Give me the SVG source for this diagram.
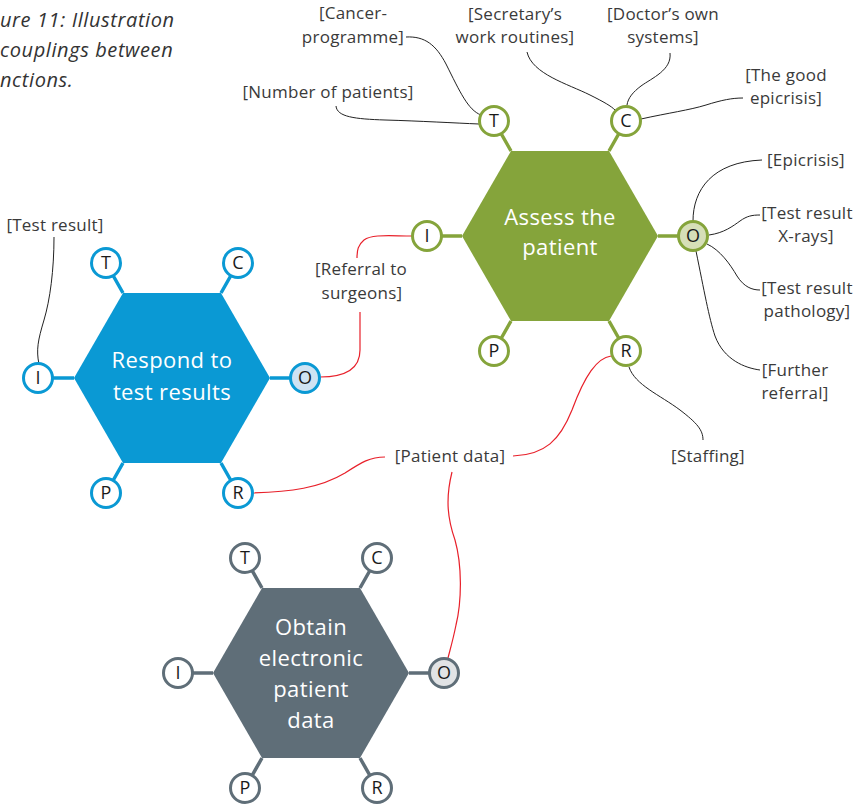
<svg xmlns="http://www.w3.org/2000/svg" width="859" height="806" viewBox="0 0 859 806">
  <defs>
    <style>
      .cap { font-family: "Open Sans", "Liberation Sans", sans-serif; font-style: italic; font-size: 20px; letter-spacing: 0.6px; fill: #333; }
      .lbl { font-family: "Open Sans", "Liberation Sans", sans-serif; font-size: 17px; letter-spacing: 0.25px; fill: #3a3a3a; text-anchor: middle; }
      .hx { font-family: "Open Sans", "Liberation Sans", sans-serif; font-size: 22px; letter-spacing: 0.4px; fill: #fff; text-anchor: middle; }
      .let { font-family: "Open Sans", "Liberation Sans", sans-serif; font-size: 18px; font-weight: 500; fill: #1a1a1a; text-anchor: middle; }
      .blk { fill: none; stroke: #222; stroke-width: 1; }
      .red { fill: none; stroke: #e8202a; stroke-width: 1.2; }
      .green .hex { fill: #85a43b; }
      .green .spoke { stroke: #85a43b; stroke-width: 3.5; }
      .green circle { fill: #fff; stroke: #85a43b; stroke-width: 3; }
      .green circle.out { fill: #d6dfb8; }
      .blue .hex { fill: #0a99d4; }
      .blue .spoke { stroke: #0a99d4; stroke-width: 3.5; }
      .blue circle { fill: #fff; stroke: #0a99d4; stroke-width: 3; }
      .blue circle.out { fill: #cfe3f3; }
      .grey .hex { fill: #5f6e78; }
      .grey .spoke { stroke: #5f6e78; stroke-width: 3.5; }
      .grey circle { fill: #fff; stroke: #5f6e78; stroke-width: 3; }
      .grey circle.out { fill: #e1e3e5; }
    </style>
  </defs>
  <rect width="859" height="806" fill="#fff"/>

  <!-- caption -->
  <g id="caption">
    <text class="cap" x="0" y="27">ure 11: Illustration</text>
    <text class="cap" x="0" y="57">couplings between</text>
    <text class="cap" x="0" y="87">nctions.</text>
  </g>

  <!-- connectors -->
  <g id="connectors">
    <path class="blk" d="M336,106 C337,117 355,119 385,120 C420,121 455,123 479,124"/>
    <path class="blk" d="M406,37 C425,36 436,45 446,64 C460,92 468,110 481,115"/>
    <path class="blk" d="M527,52 C532,74 568,84 590,95 C604,102 611,106 615,110"/>
    <path class="blk" d="M670,53 C672,70 652,78 641,86 C633,92 628,98 627,105"/>
    <path class="blk" d="M641,119 C668,113 690,110 706,105 C722,100 732,98 743,98"/>
    <path class="blk" d="M693,221 C693,190 712,162 762,160"/>
    <path class="blk" d="M709,235 C724,233 733,226 740,221 C747,216 752,215 760,215"/>
    <path class="blk" d="M707,244 C720,250 730,264 737,276 C744,287 752,290 760,290"/>
    <path class="blk" d="M696,251 C704,290 709,318 715,336 C724,360 745,368 760,370"/>
    <path class="blk" d="M629,367 C635,385 660,395 680,410 C697,423 703,430 703,440"/>
    <path class="blk" d="M54,237 C54,270 50,300 44,320 C38,340 36,350 39,364"/>
    <path class="red" d="M412,236 C390,236 372,234 364,240 C358,245 357,250 357,258"/>
    <path class="red" d="M360,312 L360,350 C360,372 340,377 320,377"/>
    <path class="red" d="M253,493 C290,492 320,488 345,473 C362,462 370,457 385,457"/>
    <path class="red" d="M513,456 C545,455 560,440 572,410 C585,375 597,358 611,356"/>
    <path class="red" d="M452,472 C445,500 448,520 455,540 C462,565 462,600 456,625 C453,640 450,650 448,658"/>
  </g>

  <!-- labels -->
  <g id="labels">
    <text class="lbl" x="353" y="19">[Cancer-</text>
    <text class="lbl" x="353" y="43">programme]</text>
    <text class="lbl" x="515" y="20">[Secretary’s</text>
    <text class="lbl" x="515" y="43">work routines]</text>
    <text class="lbl" x="663" y="20">[Doctor’s own</text>
    <text class="lbl" x="663" y="43">systems]</text>
    <text class="lbl" x="786" y="81">[The good</text>
    <text class="lbl" x="786" y="104">epicrisis]</text>
    <text class="lbl" x="328" y="98">[Number of patients]</text>
    <text class="lbl" x="806" y="166">[Epicrisis]</text>
    <text class="lbl" x="807" y="219">[Test result</text>
    <text class="lbl" x="806" y="242">X-rays]</text>
    <text class="lbl" x="807" y="294">[Test result</text>
    <text class="lbl" x="807" y="317">pathology]</text>
    <text class="lbl" x="795" y="376">[Further</text>
    <text class="lbl" x="795" y="399">referral]</text>
    <text class="lbl" x="708" y="462">[Staffing]</text>
    <text class="lbl" x="55" y="231">[Test result]</text>
    <text class="lbl" x="361" y="275">[Referral to</text>
    <text class="lbl" x="362" y="299">surgeons]</text>
    <text class="lbl" x="450" y="462">[Patient data]</text>
  </g>

  <!-- Assess the patient -->
  <g id="assess" class="green">
    <path class="spoke" d="M511,151 L494,121 M609,151 L626,121 M511,321 L494,351 M609,321 L626,351 M462,236 L427,236 M658,236 L693,236"/>
    <polygon class="hex" points="462,236 511,151 609,151 658,236 609,321 511,321"/>
    <text class="hx" x="560" y="225">Assess the</text>
    <text class="hx" x="560" y="255">patient</text>
    <circle cx="494" cy="121" r="14.5"/>
    <circle cx="626" cy="121" r="14.5"/>
    <circle cx="427" cy="236" r="14.5"/>
    <circle class="out" cx="693" cy="236" r="14.5"/>
    <circle cx="494" cy="351" r="14.5"/>
    <circle cx="626" cy="351" r="14.5"/>
    <text class="let" x="494" y="127">T</text>
    <text class="let" x="626" y="127">C</text>
    <text class="let" x="427" y="242">I</text>
    <text class="let" x="693" y="242">O</text>
    <text class="let" x="494" y="357">P</text>
    <text class="let" x="626" y="357">R</text>
  </g>

  <!-- Respond to test results -->
  <g id="respond" class="blue">
    <path class="spoke" d="M123,293 L106,263 M221,293 L238,263 M123,463 L106,493 M221,463 L238,493 M74,378 L38,378 M270,378 L305,378"/>
    <polygon class="hex" points="74,378 123,293 221,293 270,378 221,463 123,463"/>
    <text class="hx" x="172" y="368">Respond to</text>
    <text class="hx" x="172" y="400">test results</text>
    <circle cx="106" cy="263" r="14.5"/>
    <circle cx="238" cy="263" r="14.5"/>
    <circle cx="38" cy="378" r="14.5"/>
    <circle class="out" cx="305" cy="378" r="14.5"/>
    <circle cx="106" cy="493" r="14.5"/>
    <circle cx="238" cy="493" r="14.5"/>
    <text class="let" x="106" y="269">T</text>
    <text class="let" x="238" y="269">C</text>
    <text class="let" x="38" y="384">I</text>
    <text class="let" x="305" y="384">O</text>
    <text class="let" x="106" y="499">P</text>
    <text class="let" x="238" y="499">R</text>
  </g>

  <!-- Obtain electronic patient data -->
  <g id="obtain" class="grey">
    <path class="spoke" d="M262,588 L245,558 M360,588 L377,558 M262,758 L245,788 M360,758 L377,788 M213,673 L178,673 M409,673 L444,673"/>
    <polygon class="hex" points="213,673 262,588 360,588 409,673 360,758 262,758"/>
    <text class="hx" x="311" y="635">Obtain</text>
    <text class="hx" x="311" y="666">electronic</text>
    <text class="hx" x="311" y="697">patient</text>
    <text class="hx" x="311" y="728">data</text>
    <circle cx="245" cy="558" r="14.5"/>
    <circle cx="377" cy="558" r="14.5"/>
    <circle cx="178" cy="673" r="14.5"/>
    <circle class="out" cx="444" cy="673" r="14.5"/>
    <circle cx="245" cy="788" r="14.5"/>
    <circle cx="377" cy="788" r="14.5"/>
    <text class="let" x="245" y="564">T</text>
    <text class="let" x="377" y="564">C</text>
    <text class="let" x="178" y="679">I</text>
    <text class="let" x="444" y="679">O</text>
    <text class="let" x="245" y="794">P</text>
    <text class="let" x="377" y="794">R</text>
  </g>
</svg>
